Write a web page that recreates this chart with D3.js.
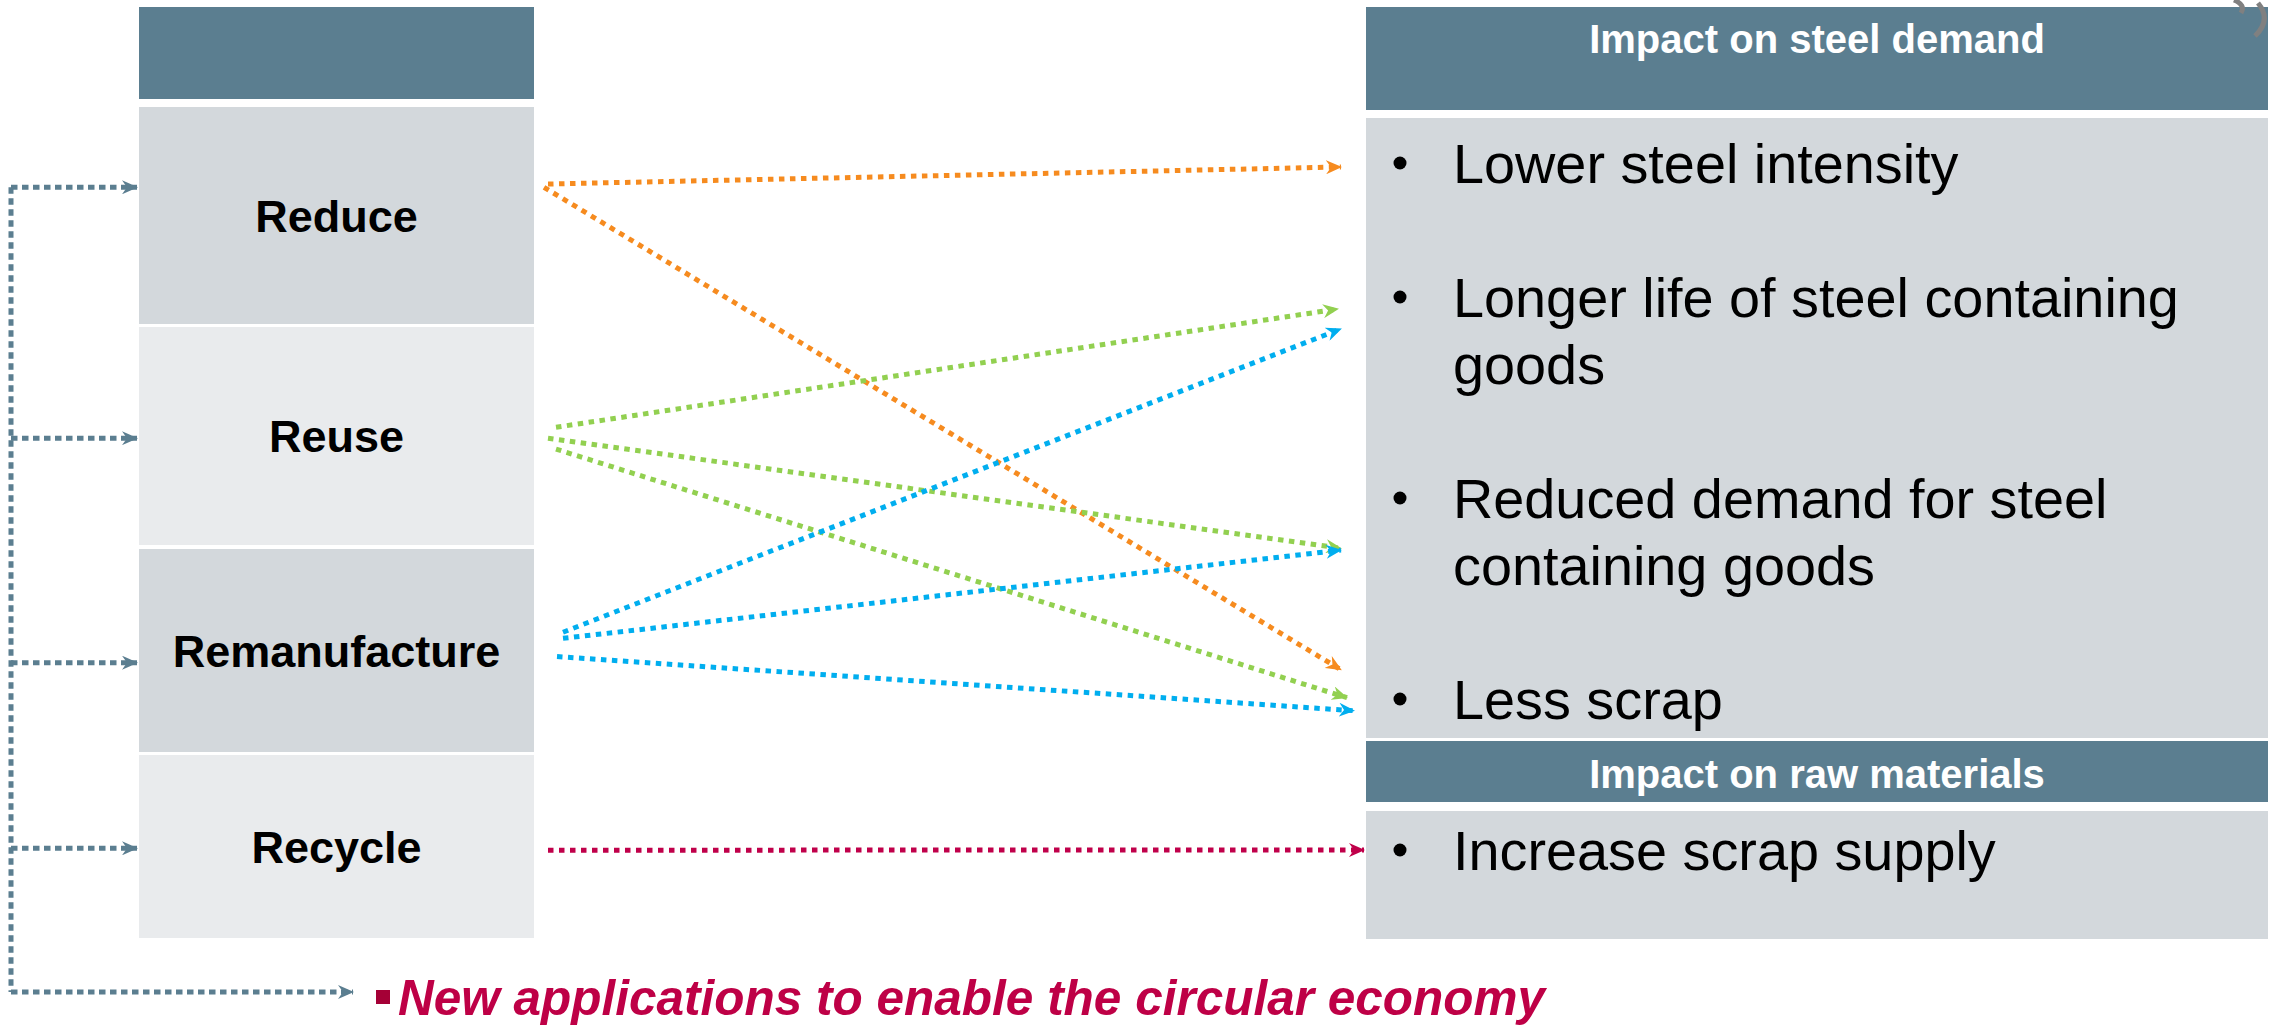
<!DOCTYPE html>
<html>
<head>
<meta charset="utf-8">
<script src="https://cdn.jsdelivr.net/npm/d3@7"></script>
<style>
  body { margin: 0; background: #fff; }
  text { font-family: "Liberation Sans", Arial, sans-serif; }
</style>
</head>
<body>
<div class="chart"></div>
<script>
var w = 2272;
var h = 1025;

// data
var strategies = ["Reduce", "Reuse", "Remanufacture", "Recycle"];
var demandHeader = "Impact on steel demand";
var rawHeader = "Impact on raw materials";
var impacts = [
  ["Lower steel intensity"],
  ["Longer life of steel containing", "goods"],
  ["Reduced demand for steel", "containing goods"],
  ["Less scrap"],
  ["Increase scrap supply"]
];
var impactGroup = ["demand", "demand", "demand", "demand", "raw"];
var linkFrom = ["Reduce", "Reduce", "Reuse", "Reuse", "Reuse", "Remanufacture", "Remanufacture", "Remanufacture", "Recycle"];
var linkTo = [0, 3, 1, 2, 3, 1, 2, 3, 4];
var footnote = "New applications to enable the circular economy";

// layout (pixels / fractions)
var leftX0 = 139, leftX1 = 534;
var leftHeader = [7, 99];
var rowTop = [107, 327, 549, 755];
var rowBottom = [324, 545, 752, 938];
var rightX0 = 1366, rightX1 = 2268;
var demandHead = [7, 110], demandBox = [118, 738];
var rawHead = [741, 802], rawBox = [811, 939];

// where each link leaves / enters (fraction of box height) and small x nudges
var linkOutFrac = [0.355, 0.37, 0.46, 0.51, 0.56, 0.41, 0.44, 0.53, 0.52];
var linkOutDx = [0, -4, 8, 0, 8, 15, 15, 9, 0];
var linkInFrac = [0.079, 0.89, 0.308, 0.694, 0.935, 0.340, 0.697, 0.956, 0.305];
var linkInDx = [0, 0, -3, 0, 6, 0, 0, 13, 23];
var feedFrac = [0.37, 0.51, 0.56, 0.51];

var colorOf = d3.scaleOrdinal()
  .domain(strategies)
  .range(["#f68b1f", "#92d050", "#00aeef", "#c0004a"]);
var rowFill = ["#d3d8dc", "#e9ebed", "#d3d8dc", "#e9ebed"];
var slate = "#5b7e90";
var crimson = "#be0046";

var rowTopScale = d3.scaleOrdinal().domain(strategies).range(rowTop);
var rowBottomScale = d3.scaleOrdinal().domain(strategies).range(rowBottom);
var rowY = function(s, f) {
  return d3.scaleLinear().domain([0, 1]).range([rowTopScale(s), rowBottomScale(s)])(f);
};
var boxY = function(group, f) {
  var b = group == "raw" ? rawBox : demandBox;
  return d3.scaleLinear().domain([0, 1]).range(b)(f);
};

var svg = d3.select(".chart").append("svg")
  .attr("width", w)
  .attr("height", h);

// arrow markers
var defs = svg.append("defs");
var markerColors = colorOf.range().concat([slate]);
markerColors.forEach(function(c, i) {
  defs.append("marker")
    .attr("id", "arr" + i)
    .attr("viewBox", "0 -7 16 14")
    .attr("refX", 15)
    .attr("refY", 0)
    .attr("markerUnits", "userSpaceOnUse")
    .attr("markerWidth", 16)
    .attr("markerHeight", 14)
    .attr("orient", "auto")
    .append("path")
    .attr("d", "M0,-7L16,0L0,7L5,0Z")
    .style("fill", c);
});
var markerFor = function(c) {
  return "url(#arr" + markerColors.indexOf(c) + ")";
};

// left column
svg.append("rect")
  .attr("x", leftX0).attr("y", leftHeader[0])
  .attr("width", leftX1 - leftX0).attr("height", leftHeader[1] - leftHeader[0])
  .style("fill", slate);

var rows = svg.selectAll("g.row")
  .data(strategies)
  .enter()
  .append("g")
  .attr("class", "row");

rows.append("rect")
  .attr("x", leftX0)
  .attr("y", function(d) { return rowTopScale(d); })
  .attr("width", leftX1 - leftX0)
  .attr("height", function(d) { return rowBottomScale(d) - rowTopScale(d); })
  .style("fill", function(d, i) { return rowFill[i]; });

rows.append("text")
  .attr("x", (leftX0 + leftX1) / 2)
  .attr("y", function(d) { return rowY(d, 0.5) + 16; })
  .attr("text-anchor", "middle")
  .style("font-size", "45px")
  .style("font-weight", "bold")
  .style("fill", "#000")
  .text(function(d) { return d; });

// right column
var drawHeader = function(span, label, baseline) {
  svg.append("rect")
    .attr("x", rightX0).attr("y", span[0])
    .attr("width", rightX1 - rightX0).attr("height", span[1] - span[0])
    .style("fill", slate);
  svg.append("text")
    .attr("x", (rightX0 + rightX1) / 2)
    .attr("y", baseline)
    .attr("text-anchor", "middle")
    .style("font-size", "40px")
    .style("font-weight", "bold")
    .style("fill", "#fff")
    .text(label);
};
drawHeader(demandHead, demandHeader, 53);
svg.append("rect")
  .attr("x", rightX0).attr("y", demandBox[0])
  .attr("width", rightX1 - rightX0).attr("height", demandBox[1] - demandBox[0])
  .style("fill", "#d3d8dc");
drawHeader(rawHead, rawHeader, 788);
svg.append("rect")
  .attr("x", rightX0).attr("y", rawBox[0])
  .attr("width", rightX1 - rightX0).attr("height", rawBox[1] - rawBox[0])
  .style("fill", "#d3d8dc");

// bullet items
var lineH = 67, paraStep = 134;
var baselines = [];
var cur = { demand: demandBox[0] + 65, raw: rawBox[0] + 59 };
impacts.forEach(function(lines, i) {
  var g = impactGroup[i];
  baselines.push(cur[g]);
  cur[g] += (lines.length - 1) * lineH + paraStep;
});

var items = svg.selectAll("g.item")
  .data(impacts)
  .enter()
  .append("g")
  .attr("class", "item");

items.append("circle")
  .attr("cx", 1400)
  .attr("cy", function(d, i) { return baselines[i] - 20; })
  .attr("r", 6.5)
  .style("fill", "#000");

items.append("text")
  .attr("x", 1453)
  .attr("y", function(d, i) { return baselines[i]; })
  .style("font-size", "55.8px")
  .style("fill", "#000")
  .selectAll("tspan")
  .data(function(d) { return d; })
  .enter()
  .append("tspan")
  .attr("x", 1453)
  .attr("dy", function(d, j) { return j == 0 ? 0 : lineH; })
  .text(function(d) { return d; });

// links
var links = linkFrom.map(function(f, i) {
  var t = linkTo[i];
  return {
    from: f,
    x1: 548 + linkOutDx[i],
    y1: rowY(f, linkOutFrac[i]),
    x2: 1341 + linkInDx[i],
    y2: boxY(impactGroup[t], linkInFrac[i])
  };
});

svg.selectAll("line.link")
  .data(links)
  .enter()
  .append("line")
  .attr("class", "link")
  .attr("x1", function(d) { return d.x1; })
  .attr("y1", function(d) { return d.y1; })
  .attr("x2", function(d) { return d.x2; })
  .attr("y2", function(d) { return d.y2; })
  .style("stroke", function(d) { return colorOf(d.from); })
  .style("stroke-width", 5)
  .style("stroke-dasharray", "5.5,5.5")
  .attr("marker-end", function(d) { return markerFor(colorOf(d.from)); });

// feedback loop on the left
var loopX = 11;
var feedY = strategies.map(function(s, i) { return rowY(s, feedFrac[i]); });
var footY = 992;
svg.append("line")
  .attr("x1", loopX).attr("x2", loopX)
  .attr("y1", feedY[0]).attr("y2", footY)
  .style("stroke", slate)
  .style("stroke-width", 5)
  .style("stroke-dasharray", "6.5,4.5");

svg.selectAll("line.feed")
  .data(feedY.concat([footY]))
  .enter()
  .append("line")
  .attr("class", "feed")
  .attr("x1", loopX)
  .attr("x2", function(d, i) { return i < strategies.length ? leftX0 - 2 : 353; })
  .attr("y1", function(d) { return d; })
  .attr("y2", function(d) { return d; })
  .style("stroke", slate)
  .style("stroke-width", 5)
  .style("stroke-dasharray", "6.5,4.5")
  .attr("marker-end", markerFor(slate));

// footnote
svg.append("rect")
  .attr("x", 376).attr("y", 990)
  .attr("width", 14).attr("height", 14)
  .style("fill", "#a50036");
svg.append("text")
  .attr("x", 398)
  .attr("y", 1015)
  .style("font-size", "49.5px")
  .style("font-weight", "bold")
  .style("font-style", "italic")
  .style("fill", crimson)
  .text(footnote);

// cut-off ornament in the top right corner
svg.append("path")
  .attr("d", "M2234,0 Q2246,5 2241,13")
  .style("fill", "none").style("stroke", "#808080").style("stroke-width", 5);
svg.append("path")
  .attr("d", "M2258,3 Q2272,20 2255,36")
  .style("fill", "none").style("stroke", "#808080").style("stroke-width", 5);
</script>
</body>
</html>
